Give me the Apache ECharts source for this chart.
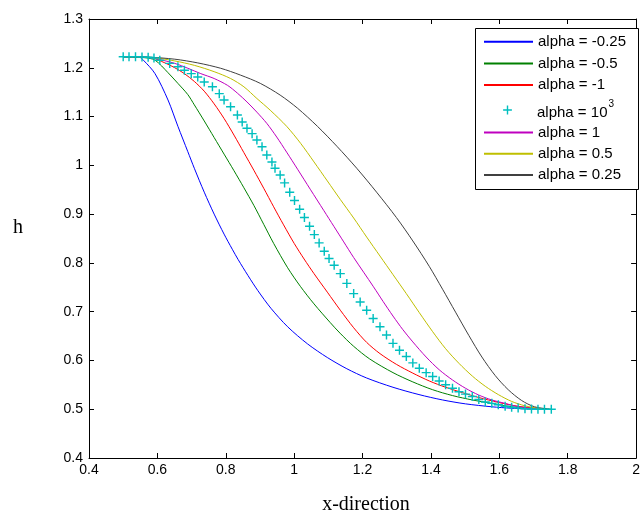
<!DOCTYPE html>
<html>
<head>
<meta charset="utf-8">
<script src="https://cdn.jsdelivr.net/npm/echarts@6/dist/echarts.min.js"></script>
<style>html,body{margin:0;padding:0;background:#fff}#c{width:643px;height:519px}</style>
</head>
<body>
<div id="c"></div>
<script>
// ---- data ----
var seriesNames = ['alpha = -0.25', 'alpha = -0.5', 'alpha = -1', 'alpha = 10^3', 'alpha = 1', 'alpha = 0.5', 'alpha = 0.25'];
var xTicks = [0.4, 0.6, 0.8, 1, 1.2, 1.4, 1.6, 1.8, 2];
var yTicks = [0.4, 0.5, 0.6, 0.7, 0.8, 0.9, 1, 1.1, 1.2, 1.3];

var blueX = [0.500,0.547,0.559,0.593,0.631,0.660,0.689,0.708,0.737,0.766,0.795,0.819,0.836,0.865,0.894,0.932,0.981,1.039,1.097,1.154,1.212,1.289,1.365,1.434,1.501,1.578,1.636,1.700];
var blueH = [1.2225,1.2217,1.2156,1.188,1.134,1.080,1.028,0.994,0.945,0.900,0.859,0.828,0.807,0.774,0.743,0.707,0.669,0.634,0.606,0.583,0.564,0.545,0.530,0.519,0.511,0.505,0.502,0.500];

var greenX = [0.500,0.562,0.593,0.631,0.660,0.689,0.708,0.737,0.766,0.795,0.824,0.853,0.882,0.911,0.940,0.981,1.018,1.058,1.105,1.134,1.174,1.221,1.289,1.347,1.405,1.463,1.521,1.578,1.636,1.703];
var greenH = [1.2225,1.2207,1.2156,1.190,1.168,1.145,1.124,1.091,1.057,1.023,0.989,0.954,0.918,0.879,0.840,0.790,0.752,0.716,0.678,0.656,0.629,0.603,0.575,0.556,0.540,0.528,0.519,0.512,0.505,0.501];

var redX = [0.500,0.576,0.622,0.651,0.679,0.708,0.737,0.766,0.795,0.824,0.853,0.882,0.911,0.940,0.969,1.000,1.029,1.058,1.097,1.135,1.174,1.212,1.251,1.299,1.347,1.395,1.443,1.492,1.540,1.597,1.655,1.718];
var redH = [1.2225,1.2217,1.210,1.200,1.188,1.172,1.152,1.126,1.096,1.062,1.026,0.990,0.953,0.915,0.878,0.840,0.808,0.778,0.740,0.703,0.667,0.637,0.614,0.592,0.574,0.558,0.545,0.534,0.524,0.514,0.506,0.501];

var cyanX = [0.500,0.517,0.536,0.555,0.573,0.590,0.607,0.636,0.660,0.679,0.699,0.718,0.737,0.761,0.781,0.795,0.814,0.834,0.848,0.862,0.877,0.891,0.906,0.920,0.935,0.944,0.959,0.972,0.987,1.001,1.016,1.030,1.045,1.059,1.073,1.088,1.102,1.117,1.135,1.154,1.174,1.193,1.212,1.231,1.251,1.270,1.289,1.308,1.328,1.347,1.366,1.386,1.405,1.424,1.443,1.463,1.482,1.501,1.521,1.540,1.559,1.578,1.597,1.617,1.636,1.655,1.675,1.694,1.713,1.732,1.752];
var cyanH = [1.2225,1.2225,1.2225,1.222,1.2215,1.220,1.2156,1.209,1.202,1.195,1.188,1.181,1.171,1.161,1.147,1.134,1.120,1.103,1.089,1.076,1.065,1.052,1.038,1.021,1.007,0.994,0.980,0.964,0.945,0.928,0.910,0.893,0.875,0.858,0.841,0.824,0.809,0.795,0.778,0.758,0.737,0.720,0.703,0.686,0.669,0.652,0.635,0.621,0.608,0.595,0.584,0.575,0.567,0.558,0.550,0.543,0.536,0.531,0.526,0.520,0.515,0.512,0.509,0.506,0.504,0.5025,0.501,0.5005,0.500,0.500,0.500];

var magX = [0.500,0.562,0.593,0.651,0.689,0.727,0.766,0.805,0.834,0.862,0.891,0.920,0.949,0.978,1.010,1.047,1.087,1.116,1.145,1.174,1.203,1.232,1.260,1.289,1.318,1.347,1.386,1.424,1.463,1.501,1.540,1.578,1.617,1.655,1.694,1.732];
var magH = [1.2225,1.2217,1.219,1.209,1.199,1.188,1.178,1.164,1.148,1.130,1.109,1.086,1.058,1.027,0.992,0.951,0.907,0.875,0.843,0.811,0.781,0.751,0.721,0.691,0.663,0.638,0.607,0.581,0.560,0.543,0.529,0.519,0.512,0.505,0.502,0.500];

var yelX = [0.500,0.593,0.651,0.708,0.766,0.814,0.853,0.891,0.930,0.978,1.019,1.058,1.097,1.135,1.174,1.212,1.251,1.289,1.328,1.366,1.405,1.443,1.482,1.521,1.559,1.597,1.636,1.675,1.713,1.747];
var yelH = [1.2225,1.2203,1.214,1.205,1.192,1.178,1.161,1.137,1.113,1.080,1.045,1.007,0.968,0.930,0.892,0.853,0.814,0.776,0.737,0.698,0.659,0.624,0.594,0.568,0.547,0.530,0.516,0.507,0.502,0.500];

var blkX = [0.500,0.576,0.651,0.718,0.785,0.843,0.901,0.959,1.010,1.068,1.125,1.183,1.241,1.299,1.347,1.395,1.434,1.472,1.511,1.549,1.588,1.626,1.665,1.703,1.752];
var blkH = [1.2225,1.2217,1.2176,1.210,1.199,1.185,1.168,1.144,1.117,1.080,1.039,0.994,0.945,0.893,0.845,0.793,0.746,0.699,0.651,0.607,0.569,0.540,0.518,0.505,0.500];

// ---- build ----
function pairs(xs, hs) { return xs.map(function (x, i) { return [x, hs[i]]; }); }
var colors = ['#0000ff', '#008000', '#ff0000', '#00bfbf', '#bf00bf', '#bfbf00', '#404040'];
var datasets = [pairs(blueX, blueH), pairs(greenX, greenH), pairs(redX, redH), pairs(cyanX, cyanH), pairs(magX, magH), pairs(yelX, yelH), pairs(blkX, blkH)];
var plusPath = 'path://M4.2,0H5.8V4.2H10V5.8H5.8V10H4.2V5.8H0V4.2H4.2Z';

var series = seriesNames.map(function (name, i) {
  var isMarker = (i === 3);
  return {
    name: name,
    type: 'line',
    data: datasets[i],
    xAxisIndex: 0,
    yAxisIndex: 0,
    smooth: isMarker ? false : 0.3,
    symbol: isMarker ? plusPath : 'none',
    symbolSize: 9,
    showSymbol: isMarker,
    showAllSymbol: true,
    color: colors[i],
    itemStyle: { color: colors[i] },
    lineStyle: isMarker ? { width: 0, opacity: 0 } : { width: 1, color: colors[i] },
    emphasis: { disabled: true },
    animation: false
  };
});

var axisCommon = {
  type: 'value',
  axisLine: { show: true, onZero: false, lineStyle: { color: '#000', width: 1 } },
  axisTick: { show: true, inside: true, length: 5, lineStyle: { color: '#000', width: 1 } },
  splitLine: { show: false }
};
var labelStyle = { color: '#000', fontSize: 14, fontFamily: 'Liberation Sans, Arial, sans-serif' };

var chart = echarts.init(document.getElementById('c'), null, { renderer: 'canvas' });
chart.setOption({
  backgroundColor: '#fff',
  animation: false,
  grid: { left: 89, right: 0, top: 19, bottom: 61, containLabel: false },
  xAxis: [
    Object.assign({}, axisCommon, { position: 'bottom', min: xTicks[0], max: xTicks[xTicks.length - 1], interval: 0.2,
      axisLabel: Object.assign({ margin: 5 }, labelStyle) }),
    Object.assign({}, axisCommon, { position: 'top', min: xTicks[0], max: xTicks[xTicks.length - 1], interval: 0.2,
      axisLabel: { show: false } })
  ],
  yAxis: [
    Object.assign({}, axisCommon, { position: 'left', min: yTicks[0], max: yTicks[yTicks.length - 1], interval: 0.1,
      axisLabel: Object.assign({ margin: 6 }, labelStyle) }),
    Object.assign({}, axisCommon, { position: 'right', min: yTicks[0], max: yTicks[yTicks.length - 1], interval: 0.1,
      axisLabel: { show: false } })
  ],
  legend: [
    {
      data: seriesNames.slice(0, 3), orient: 'vertical', left: 483, top: 33.7, padding: 0,
      itemWidth: 49, itemHeight: 16, itemGap: 5.7, itemStyle: { opacity: 0 },
      textStyle: { fontSize: 15, lineHeight: 16, color: '#000', fontFamily: 'Liberation Sans, Arial, sans-serif' },
      selectedMode: false
    },
    {
      data: [seriesNames[3]], orient: 'vertical', left: 483, top: 99.5, padding: 0,
      itemWidth: 49, itemHeight: 11,
      formatter: function () { return '{b|alpha = 10}{s|3}'; },
      textStyle: { fontSize: 15, color: '#000', fontFamily: 'Liberation Sans, Arial, sans-serif',
        rich: {
          b: { fontSize: 15, lineHeight: 16, verticalAlign: 'bottom', fontFamily: 'Liberation Sans, Arial, sans-serif' },
          s: { fontSize: 10, verticalAlign: 'top', padding: [0, 0, 11, 1], fontFamily: 'Liberation Sans, Arial, sans-serif' }
        } },
      selectedMode: false
    },
    {
      data: seriesNames.slice(4), orient: 'vertical', left: 483, top: 124.5, padding: 0,
      itemWidth: 49, itemHeight: 16, itemGap: 5.2, itemStyle: { opacity: 0 },
      textStyle: { fontSize: 15, lineHeight: 16, color: '#000', fontFamily: 'Liberation Sans, Arial, sans-serif' },
      selectedMode: false
    }
  ],
  graphic: [
    { type: 'rect', z: 3, shape: { x: 475.5, y: 28.5, width: 163, height: 161 },
      style: { fill: '#fff', stroke: '#000', lineWidth: 1 } },
    { type: 'text', x: 18, y: 228, style: { text: 'h', font: '20px "Liberation Serif", "Times New Roman", serif', fill: '#000', align: 'center', verticalAlign: 'middle' } },
    { type: 'text', x: 366, y: 505, style: { text: 'x-direction', font: '20px "Liberation Serif", "Times New Roman", serif', fill: '#000', align: 'center', verticalAlign: 'middle' } }
  ],
  series: series
});
</script>
</body>
</html>
